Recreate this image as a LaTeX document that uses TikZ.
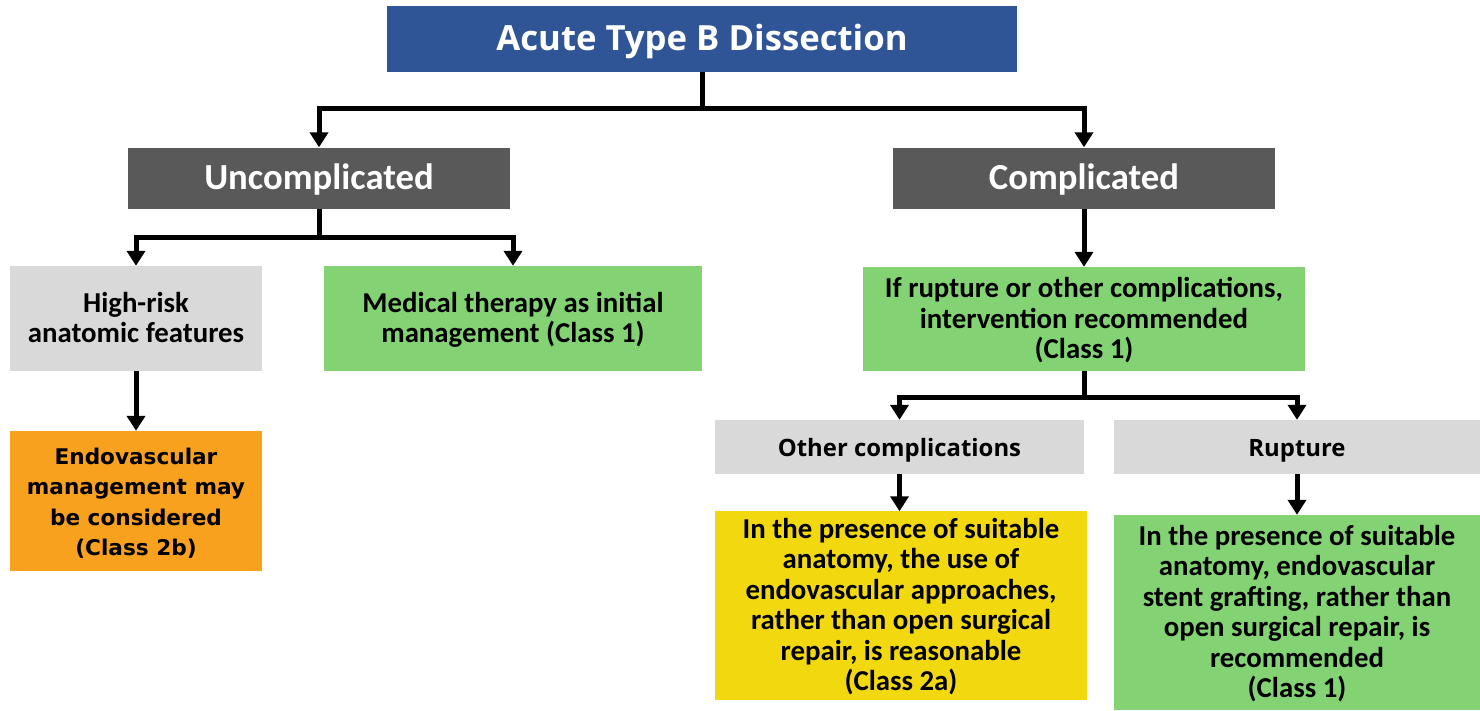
\documentclass[tikz,border=0pt]{standalone}
\usepackage{fontspec}
\setmainfont{Carlito}
\newfontfamily\titlefont{Open Sans}
\newfontfamily\widefont{DejaVu Sans}
\usetikzlibrary{arrows.meta}
\definecolor{titleblue}{HTML}{2F5597}
\definecolor{headgrey}{HTML}{595959}
\definecolor{lightgrey}{HTML}{D9D9D9}
\definecolor{boxgreen}{HTML}{83D374}
\definecolor{boxorange}{HTML}{F7A11E}
\definecolor{boxyellow}{HTML}{F2D80F}
\begin{document}
\begin{tikzpicture}[x=1pt, y=-1pt,
% common options for boxes (struts keep the text lines in place):
box/.style = {rectangle, align=flush center, inner sep=0,
            font=\bfseries\fontsize{28.8}{30.5}\selectfont,
            execute at begin node={\rule{0pt}{27pt}},
            execute at end node={\rule[-8.6pt]{0pt}{0pt}}},
head/.style = {box, fill=headgrey, text=white, minimum width=382pt,
            minimum height=61pt, font=\bfseries\fontsize{36.7}{40}\selectfont,
            execute at begin node={\rule{0pt}{31.6pt}}},
case/.style = {box, fill=lightgrey, minimum width=#1, minimum height=54pt,
            font=\titlefont\bfseries\fontsize{23.9}{30.5}\selectfont,
            execute at begin node={\rule{0pt}{28pt}}},
% common options for the arrows:
link/.style = {line width=5pt, -{Triangle[width=18pt,length=15pt]}}]
\useasboundingbox (0,0) rectangle (1480,710);
\node[box, fill=titleblue, text=white, minimum width=630pt, minimum height=66pt,
      font=\titlefont\bfseries\fontsize{34.7}{38}\selectfont,
      execute at begin node={\rule{0pt}{32.4pt}}] (title) at (702,39) {Acute Type B Dissection};
\node[head] (uncomp) at (319,178) {Uncomplicated};
\node[head] (comp) at (1084,178) {Complicated};
\node[box, fill=lightgrey, text width=252pt, minimum height=105pt] (risk) at (136,318.5) {High-risk\\anatomic features};
\node[box, fill=boxgreen, text width=378pt, minimum height=105pt] (medical) at (513,318.5) {Medical therapy as initial\\management (Class 1)};
\node[box, fill=boxorange, text width=252pt, minimum height=140pt,
      font=\widefont\bfseries\fontsize{21.6}{30.5}\selectfont] (endo) at (136,501) {Endovascular\\management may\\be considered\\(Class 2b)};
\node[box, fill=boxgreen, text width=442pt, minimum height=104pt] (interv) at (1084,319) {If rupture or other complications,\\intervention recommended\\(Class 1)};
\node[case=369pt] (other) at (899.5,447) {Other complications};
\node[case=366pt] (rupture) at (1297,447) {Rupture};
\node[box, fill=boxyellow, text width=372pt, minimum height=179pt] (approach) at (901,605.5) {In the presence of suitable\\anatomy, the use of\\endovascular approaches,\\rather than open surgical\\repair, is reasonable\\(Class 2a)};
\node[box, fill=boxgreen, text width=366pt, minimum height=195pt] (stent) at (1297,612.5) {In the presence of suitable\\anatomy, endovascular\\stent grafting, rather than\\open surgical repair, is\\recommended\\(Class 1)};
\draw[link] (title.south) -- ++(0,36) -| (uncomp.north);
\draw[link] (title.south) -- ++(0,36) -| (comp.north);
\draw[link] (uncomp.south) -- ++(0,29) -| (risk.north);
\draw[link] (uncomp.south) -- ++(0,29) -| (medical.north);
\draw[link] (risk.south) -- (endo.north);
\draw[link] (comp.south) -- (interv.north);
\draw[link] (interv.south) -- ++(0,26) -| (other.north);
\draw[link] (interv.south) -- ++(0,26) -| (rupture.north);
\draw[link] (other.south) -- (other.south |- approach.north);
\draw[link] (rupture.south) -- (stent.north);
\end{tikzpicture}
\end{document}
